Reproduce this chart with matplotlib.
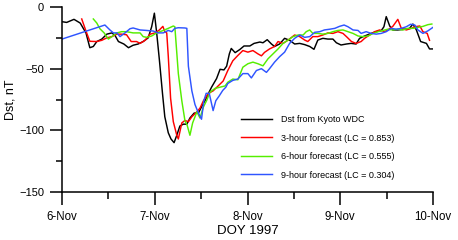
import numpy as np
import matplotlib
matplotlib.use("Agg")
from matplotlib import pyplot as plt
from matplotlib.ticker import MultipleLocator

plt.rcParams["font.family"] = ["Liberation Sans", "DejaVu Sans"]

# hours since 6-Nov 00 UT, Dst in nT
t_obs = [0.2, 1.2, 3.1, 4.7, 6.2, 7.2, 8.1, 9.0, 10.3, 11.6, 12.9, 13.7, 14.6, 16.0, 17.2,
         18.4, 19.7, 21.0, 22.3, 23.2, 23.9, 24.5, 25.2, 26.0, 26.6, 27.5, 28.2, 29.0, 29.7, 30.5,
         31.4, 32.3, 33.1, 34.2, 35.3, 36.1, 37.0, 37.9, 38.7, 40.0, 40.9, 41.9, 42.6, 43.3, 43.8,
         44.8, 46.0, 47.1, 48.6, 49.7, 51.2, 52.0, 53.1, 54.2, 55.0, 56.3, 57.6, 58.9, 60.2, 61.5,
         62.8, 64.1, 65.2, 66.2, 67.5, 68.8, 70.1, 71.0, 72.2, 73.6, 74.8, 76.1, 77.0, 78.3, 80.0,
         81.3, 82.6, 83.3, 83.9, 84.8, 85.6, 86.9, 88.7, 89.9, 90.8, 91.7, 92.8, 94.3, 95.1, 96.0]
dst_obs = [-12, -12.5, -10, -13, -21, -33, -32, -28, -26, -22, -21, -23, -28, -30, -33,
           -31, -30, -28, -25, -16, -5, -21, -43, -70, -89, -102, -107, -110, -104, -96.5,
           -95, -95, -90, -86, -86, -81, -76, -70, -65, -58, -50.5, -51, -48, -38, -33.6,
           -37, -34.5, -31.6, -31.6, -29.5, -28.4, -29, -26.5, -30, -32, -30, -25.4, -27, -30, -29.5,
           -30.5, -32, -34.3, -26.8, -25.4, -26, -26, -29, -30.8, -30, -29.5, -30, -25.4, -23.5, -21.4,
           -20, -19.2, -16, -7.8, -15.4, -18.6, -18.6, -18, -17.4, -13.8, -18.6, -28, -29.5, -34, -34]

t_3h = [5.1, 6.2, 7.2, 9.0, 10.3, 11.6, 12.9, 14.2, 15.4, 16.7, 17.9, 19.3, 20.2, 21.5, 22.8,
        24.1, 25.2, 26.1, 26.6, 27.1, 27.5, 28.1, 28.8, 29.7, 30.1, 31.0, 31.8, 32.7, 33.6, 34.9,
        35.7, 36.6, 37.9, 39.1, 40.4, 41.7, 42.9, 44.2, 45.5, 46.8, 48.1, 49.4, 50.7, 51.6, 52.4,
        53.7, 55.0, 55.9, 57.2, 58.5, 60.2, 61.5, 62.8, 63.6, 64.9, 66.2, 67.5, 68.8, 70.1, 71.4,
        72.7, 73.6, 74.9, 76.1, 77.4, 78.3, 79.6, 80.9, 82.2, 83.5, 84.3, 85.6, 86.9, 87.8, 89.1,
        90.4, 91.3, 92.6, 93.4, 94.5, 95.1]
dst_3h = [-9.7, -19.5, -27.8, -28, -27, -25, -24, -22, -22, -22.5, -28, -28, -29.5, -27, -22,
          -21, -18.6, -15.7, -20, -21, -40, -74, -93, -104, -107, -94, -92, -93, -89, -85,
          -82, -76, -70, -68, -64, -60, -51.5, -43.6, -39.3, -35.3, -36.6, -35.3, -38, -39.6, -36.8,
          -34, -32, -28, -29.5, -26.8, -22.7, -24, -26.8, -28, -24, -24, -22.7, -21, -21.4, -20,
          -21.4, -24, -28, -29.5, -28, -25.4, -22.7, -20, -18.6, -20, -18.6, -15.7, -10, -17.3, -18.6,
          -17.3, -16, -15.4, -20, -21.4, -27]

t_6h = [8.1, 9.0, 9.8, 10.9, 12.0, 12.9, 14.2, 15.4, 16.7, 18.4, 20.2, 21.0, 21.9, 23.2, 24.5,
        26.2, 27.5, 28.8, 29.2, 30.1, 31.0, 31.8, 32.4, 33.1, 33.8, 34.9, 35.7, 36.6, 37.4, 38.3,
        39.6, 40.9, 42.2, 42.9, 44.2, 45.5, 46.8, 48.1, 49.4, 50.7, 52.0, 53.3, 54.6, 55.9, 57.2,
        58.5, 59.8, 61.1, 62.4, 63.2, 64.1, 64.9, 66.2, 67.5, 68.8, 70.1, 71.4, 72.7, 74.0, 75.3,
        76.6, 77.9, 79.2, 80.5, 81.8, 83.1, 84.3, 85.6, 86.9, 88.2, 89.5, 90.8, 92.1, 93.4, 94.7, 95.7]
dst_6h = [-9.7, -13, -17.6, -21, -26, -24, -21, -20, -20, -21, -21, -24, -24.6, -23.5, -21,
          -19, -17.3, -15.4, -16, -54, -76, -92, -96, -104, -94, -85, -90, -81, -76, -69,
          -66, -65, -64, -61, -58.4, -59, -48.8, -46, -44.7, -46, -47.7, -42, -38, -34, -29.5,
          -26.8, -24, -22.7, -22.7, -20, -18.6, -21.4, -21.4, -22, -21.4, -20, -19, -18.6, -20, -21.4,
          -23.5, -24, -23.5, -21.4, -20, -19, -18, -18.6, -18, -18.6, -17.3, -17.3, -16.5, -15.7, -14.3, -13.8]

t_9h = [0.0, 11.1, 12.4, 13.3, 14.2, 15.0, 16.3, 17.6, 18.4, 20.2, 21.9, 23.6, 24.9, 26.2, 27.5,
        28.4, 29.2, 30.1, 31.8, 32.3, 32.7, 33.6, 34.4, 35.3, 36.1, 36.7, 37.3, 38.1, 39.1, 39.8,
        40.7, 41.6, 42.4, 42.9, 44.2, 45.5, 46.8, 48.1, 49.0, 50.3, 51.6, 52.9, 53.7, 55.0, 56.3,
        57.6, 58.9, 60.2, 61.5, 62.8, 64.1, 65.4, 66.7, 67.9, 69.3, 70.6, 71.8, 73.0, 74.0, 75.3,
        76.6, 77.4, 78.7, 80.0, 81.3, 82.6, 83.9, 85.2, 86.5, 87.8, 89.1, 90.2, 91.3, 92.1, 93.4,
        94.7, 96.0]
dst_9h = [-26, -14.6, -18.6, -21, -21, -24, -21, -17.6, -17, -18.6, -19, -19.5, -21, -21, -19,
          -20, -17.3, -16.8, -17, -17.3, -48, -68, -79, -86, -91, -76, -70, -70, -84, -76,
          -72, -67.6, -65, -62, -59.5, -58.4, -54, -54, -57.5, -51.5, -50, -53, -50, -44.7, -40.3,
          -36.6, -29.5, -25.4, -22.7, -24.6, -24, -20.5, -20, -18.6, -18, -17.3, -15.7, -14.6, -16, -18.6,
          -19, -21.4, -20, -21.4, -22, -21.4, -20, -17.3, -18, -17.3, -16, -14, -14.6, -18.6, -21.4,
          -19.3, -16.5]

day_labels = ["6-Nov", "7-Nov", "8-Nov", "9-Nov", "10-Nov"]
labels = ["Dst from Kyoto WDC", "3-hour forecast (LC = 0.853)",
          "6-hour forecast (LC = 0.555)", "9-hour forecast (LC = 0.304)"]
colors = ["black", "#ff0000", "#55ee00", "#2f55ff"]

fig = plt.figure(figsize=(4.58, 2.4), dpi=100)
ax = fig.add_axes([0.1354, 0.2, 0.81, 0.7708])

series = [(t_obs, dst_obs), (t_3h, dst_3h), (t_6h, dst_6h), (t_9h, dst_9h)]
for (t, d), c, lab in zip(series, colors, labels):
    ax.plot(np.array(t) / 24.0, d, color=c, lw=1.05, label=lab)

ax.set_xlim(0, 4)
ax.set_ylim(-150, 0)
ax.set_xticks(range(5))
ax.set_xticklabels(day_labels)
ax.xaxis.set_minor_locator(MultipleLocator(0.5))
ax.yaxis.set_major_locator(MultipleLocator(50))
ax.yaxis.set_minor_locator(MultipleLocator(25))

for s in ["top", "right"]:
    ax.spines[s].set_visible(False)
for s in ["left", "bottom"]:
    ax.spines[s].set_linewidth(1.1)

ax.tick_params(axis="x", which="major", length=9.5, width=1.1, labelsize=8.3, pad=4)
ax.tick_params(axis="x", which="minor", length=5, width=1.1)
ax.tick_params(axis="y", which="major", length=9, width=1.1, labelsize=8, pad=4)
ax.tick_params(axis="y", which="minor", length=4, width=1.1)

ax.set_xlabel("DOY 1997", fontsize=9.5, labelpad=1.5)
ax.set_ylabel("Dst, nT", fontsize=9, labelpad=2)

ax.legend(loc="upper left", bbox_to_anchor=(0.472, 0.435), frameon=False, fontsize=6.5,
          handlelength=3.5, handletextpad=0.95, labelspacing=1.05, borderaxespad=0)

fig.savefig("out.png", dpi=100)
